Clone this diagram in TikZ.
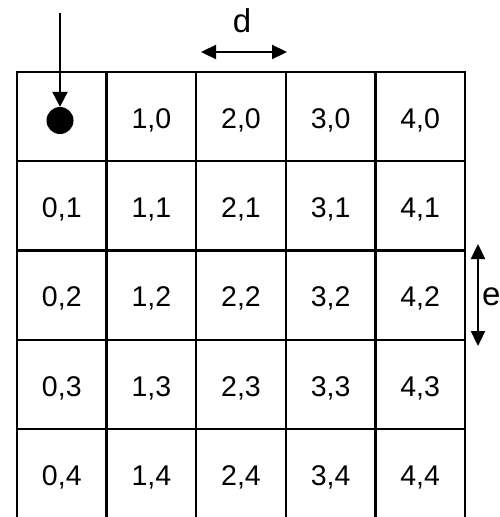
\documentclass[tikz,border=0pt]{standalone}
\usepackage{fontspec}
\setmainfont{Liberation Sans}
\usetikzlibrary{arrows.meta}
\begin{document}
\begin{tikzpicture}[x=1pt,y=-1pt,
  gridline/.style={line width=2.3pt},
  lbl/.style={font=\fontsize{28.5}{32}\selectfont, inner sep=0pt},
  dimlbl/.style={font=\fontsize{33}{36}\selectfont, inner sep=0pt},
  arr/.style={line width=2.3pt, -{Triangle[length=15pt,width=15pt]}},
  darr/.style={line width=2.3pt, {Triangle[length=15pt,width=14pt]}-{Triangle[length=15pt,width=14pt]}}]
\useasboundingbox (0,0) rectangle (500,517);
% grid
\foreach \x in {17,106.6,196.2,285.8,375.4,465} {
  \draw[gridline] (\x,72) -- (\x,520);
}
\foreach \y in {72,161.3,250.6,339.9,429.2} {
  \draw[gridline] (15.85,\y) -- (466.15,\y);
}
% labels
\foreach \c [count=\i from 0] in {61.8,151.4,241,330.6,420.2} {
  \foreach \r [count=\j from 0] in {120,209.3,298.6,387.9,477.2} {
    \ifnum\i=0 \ifnum\j=0 \else
      \node[lbl] (c\i\j) at (\c,\r) {\i,\j};
    \fi\else
      \node[lbl] (c\i\j) at (\c,\r) {\i,\j};
    \fi
  }
}
% dot and arrow
\node[circle, fill=black, minimum size=27pt, inner sep=0pt] (dot) at (60,120.5) {};
\coordinate (astart) at (60,13);
\draw[arr] (astart) -- (dot.north);
% d dimension
\coordinate (d1) at (201,52);
\coordinate (d2) at (287,52);
\draw[darr] (d1) -- (d2);
\node[dimlbl] (dlab) at (242,21) {d};
% e dimension
\coordinate (e1) at (478,244);
\coordinate (e2) at (478,346);
\draw[darr] (e1) -- (e2);
\node[dimlbl, anchor=west] (elab) at (482,297) {e};
\end{tikzpicture}
\end{document}
